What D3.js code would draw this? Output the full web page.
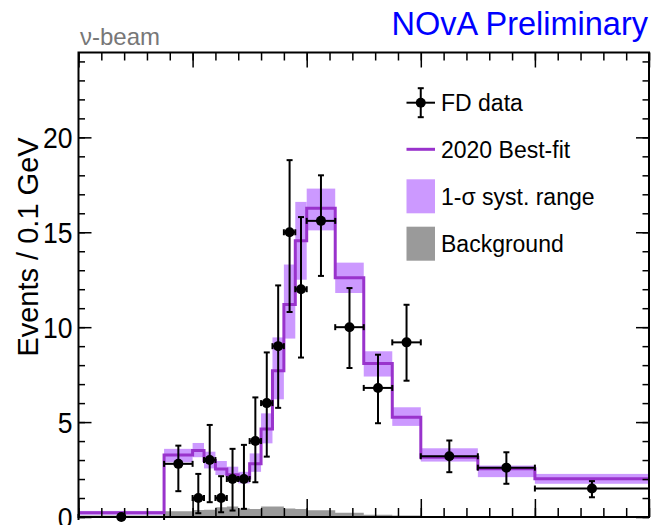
<!DOCTYPE html>
<html>
<head>
<meta charset="utf-8">
<script src="https://cdn.jsdelivr.net/npm/d3@7"></script>
<style>
  body { margin: 0; background: #fff; }
  svg { display: block; font-family: "Liberation Sans", Arial, sans-serif; }
</style>
</head>
<body>
<div id="chart"></div>
<script>
// reconstructed energy bin edges (GeV)
const binEdges = [0, 0.75, 1.0, 1.1, 1.2, 1.3, 1.4, 1.5, 1.6, 1.7, 1.8, 1.9, 2.0, 2.25, 2.5, 2.75, 3.0, 3.5, 4.0, 5.0];

// 2020 best-fit prediction, per bin
const bestFit = [0.22, 3.27, 3.5, 2.97, 2.53, 2.22, 2.05, 2.8, 4.64, 7.7, 11.2, 14.55, 16.27, 12.6, 8.08, 5.25, 3.15, 2.54, 2.01];
// 1-sigma systematic range
const systLow  = [0.12, 2.88, 3.15, 2.56, 2.21, 1.95, 1.77, 2.38, 3.88, 6.2, 9.4, 12.5, 15.1, 11.8, 7.4, 4.8, 2.92, 2.1, 1.75];
const systHigh = [0.32, 3.59, 3.9, 3.44, 2.95, 2.65, 2.38, 3.35, 5.46, 9.46, 13.3, 16.6, 17.3, 13.4, 8.73, 5.78, 3.62, 2.71, 2.27];
// background prediction
const background = [0.08, 0.3, 0.37, 0.38, 0.52, 0.55, 0.45, 0.42, 0.55, 0.55, 0.45, 0.42, 0.35, 0.22, 0.12, 0.08, 0.04, 0.03, 0.02];

// FD data, one point per bin
const dataVal = [0, 2.8, 1, 3, 1, 2, 2, 4, 6, 9, 15, 12, 15.6, 10, 6.8, 9.2, 3.2, 2.6, 1.5];
const dataLo  = [0, 1.36, 0.2, 0.78, 0.25, 0.34, 0.43, 1.83, 3.18, 5.75, 10.8, 8.4, 12.7, 7.85, 4.94, 7.18, 2.36, 1.75, 1.04];
const dataHi  = [0.15, 3.76, 2.27, 4.85, 2.15, 3.59, 3.8, 6.3, 8.67, 12.2, 18.8, 15.8, 18.0, 12.06, 8.55, 11.18, 4.03, 3.41, 1.89];

const yTickLabels = [0, 5, 10, 15, 20];

const legendItems = ["FD data", "2020 Best-fit", "1-\u03c3 syst. range", "Background"];

const W = 652, H = 525;
const plot = { left: 78.5, right: 649, top: 52.5, bottom: 517 };

const purple = "#9933cc";
const band = "#cc99ff";
const grey = "#9a9a9a";

const x = d3.scaleLinear().domain([0, 5]).range([plot.left, plot.right]);
const y = d3.scaleLinear().domain([0, 24.47]).range([plot.bottom, plot.top]);

const svg = d3.select("#chart")
  .append("svg")
  .attr("width", W)
  .attr("height", H);

const bins = bestFit.map((v, i) => ({ x0: binEdges[i], x1: binEdges[i + 1], i }));

// syst band
svg.append("g")
  .selectAll("rect")
  .data(bins)
  .join("rect")
  .attr("x", d => x(d.x0))
  .attr("width", d => x(d.x1) - x(d.x0))
  .attr("y", d => y(systHigh[d.i]))
  .attr("height", d => y(systLow[d.i]) - y(systHigh[d.i]))
  .attr("fill", band);

// background
const stepPts = vals => vals.map((v, i) => [binEdges[i], v]).concat([[binEdges[binEdges.length - 1], vals[vals.length - 1]]]);

svg.append("path")
  .datum(stepPts(background))
  .attr("fill", grey)
  .attr("d", d3.area().x(d => x(d[0])).y0(y(0)).y1(d => y(d[1])).curve(d3.curveStepAfter));

// best fit line
svg.append("path")
  .datum(stepPts(bestFit))
  .attr("fill", "none")
  .attr("stroke", purple)
  .attr("stroke-width", 3)
  .attr("d", d3.line().x(d => x(d[0])).y(d => y(d[1])).curve(d3.curveStepAfter));

// axes: ticks drawn inward on all four sides
const yMinor = d3.range(0, 25, 1);
const xMinor = d3.range(0, 5.01, 0.2).map(v => +v.toFixed(1));
const xMajor = [0, 1, 2, 3, 4, 5];

svg.append("g")
  .attr("transform", `translate(${plot.left},0)`)
  .call(d3.axisRight(y).tickValues(yMinor).tickSize(6.5).tickFormat(""))
  .call(g => g.select(".domain").remove());
svg.append("g")
  .attr("transform", `translate(${plot.left},0)`)
  .call(d3.axisRight(y).tickValues(yTickLabels).tickSize(13).tickFormat(""))
  .call(g => g.select(".domain").remove());
svg.append("g")
  .attr("transform", `translate(${plot.right},0)`)
  .call(d3.axisLeft(y).tickValues(yMinor).tickSize(6.5).tickFormat(""))
  .call(g => g.select(".domain").remove());
svg.append("g")
  .attr("transform", `translate(${plot.right},0)`)
  .call(d3.axisLeft(y).tickValues(yTickLabels).tickSize(13).tickFormat(""))
  .call(g => g.select(".domain").remove());

svg.append("g")
  .attr("transform", `translate(0,${plot.bottom})`)
  .call(d3.axisTop(x).tickValues(xMinor).tickSize(9).tickFormat(""))
  .call(g => g.select(".domain").remove());
svg.append("g")
  .attr("transform", `translate(0,${plot.bottom})`)
  .call(d3.axisTop(x).tickValues(xMajor).tickSize(18).tickFormat(""))
  .call(g => g.select(".domain").remove());
svg.append("g")
  .attr("transform", `translate(0,${plot.top})`)
  .call(d3.axisBottom(x).tickValues(xMinor).tickSize(8).tickFormat(""))
  .call(g => g.select(".domain").remove());
svg.append("g")
  .attr("transform", `translate(0,${plot.top})`)
  .call(d3.axisBottom(x).tickValues(xMajor).tickSize(15).tickFormat(""))
  .call(g => g.select(".domain").remove());

svg.selectAll(".tick line").attr("stroke", "#000").attr("stroke-width", 1.5);

// y tick labels (slightly narrow, like the original font)
svg.append("g")
  .selectAll("text")
  .data(yTickLabels)
  .join("text")
  .attr("transform", d => `translate(${plot.left - 6},${y(d)}) scale(0.9,1)`)
  .attr("dy", "0.36em")
  .attr("text-anchor", "end")
  .attr("font-size", 29.5)
  .text(d => d);

// frame
svg.append("rect")
  .attr("x", plot.left)
  .attr("y", plot.top)
  .attr("width", plot.right - plot.left)
  .attr("height", plot.bottom - plot.top)
  .attr("fill", "none")
  .attr("stroke", "#000")
  .attr("stroke-width", 2);

// data points
const pts = svg.append("g").attr("stroke", "#000").attr("stroke-width", 2);
const cap = 3;
bins.forEach(d => {
  const i = d.i;
  const cx = x((d.x0 + d.x1) / 2);
  const cy = y(dataVal[i]);
  const yt = y(dataHi[i]), yb = y(dataLo[i]);
  pts.append("line").attr("x1", x(d.x0)).attr("x2", x(d.x1)).attr("y1", cy).attr("y2", cy);
  pts.append("line").attr("x1", x(d.x0)).attr("x2", x(d.x0)).attr("y1", cy - cap).attr("y2", cy + cap);
  pts.append("line").attr("x1", x(d.x1)).attr("x2", x(d.x1)).attr("y1", cy - cap).attr("y2", cy + cap);
  pts.append("line").attr("x1", cx).attr("x2", cx).attr("y1", yt).attr("y2", yb);
  pts.append("line").attr("x1", cx - cap).attr("x2", cx + cap).attr("y1", yt).attr("y2", yt);
  pts.append("line").attr("x1", cx - cap).attr("x2", cx + cap).attr("y1", yb).attr("y2", yb);
  pts.append("circle").attr("cx", cx).attr("cy", cy).attr("r", 5).attr("fill", "#000").attr("stroke", "none");
});

// legend
const lg = svg.append("g").attr("font-size", 23);
const lx0 = 406.5, lx1 = 435, tx = 441;
const rows = [102.7, 149.3, 196.3, 243.7];

lg.append("line").attr("x1", lx0).attr("x2", lx1).attr("y1", rows[0]).attr("y2", rows[0]).attr("stroke", "#000").attr("stroke-width", 2);
lg.append("line").attr("x1", (lx0 + lx1) / 2).attr("x2", (lx0 + lx1) / 2).attr("y1", rows[0] - 14.5).attr("y2", rows[0] + 14.5).attr("stroke", "#000").attr("stroke-width", 2);
[-14.5, 14.5].forEach(o => lg.append("line").attr("x1", (lx0 + lx1) / 2 - cap).attr("x2", (lx0 + lx1) / 2 + cap)
  .attr("y1", rows[0] + o).attr("y2", rows[0] + o).attr("stroke", "#000").attr("stroke-width", 2));
lg.append("circle").attr("cx", (lx0 + lx1) / 2).attr("cy", rows[0]).attr("r", 5).attr("fill", "#000");

lg.append("line").attr("x1", lx0).attr("x2", lx1).attr("y1", rows[1]).attr("y2", rows[1]).attr("stroke", purple).attr("stroke-width", 3);
lg.append("rect").attr("x", lx0).attr("y", rows[2] - 17).attr("width", lx1 - lx0).attr("height", 34).attr("fill", band);
lg.append("rect").attr("x", lx0).attr("y", rows[3] - 17).attr("width", lx1 - lx0).attr("height", 34).attr("fill", grey);

lg.selectAll("text.lab")
  .data(legendItems)
  .join("text")
  .attr("class", "lab")
  .attr("x", tx)
  .attr("y", (d, i) => rows[i])
  .attr("dy", "0.36em")
  .text(d => d);

// titles
svg.append("text")
  .attr("x", 648)
  .attr("y", 35)
  .attr("text-anchor", "end")
  .attr("font-size", 32.5)
  .attr("fill", "#0000ff")
  .text("NOvA Preliminary");

svg.append("text")
  .attr("x", 80)
  .attr("y", 45)
  .attr("font-size", 24)
  .attr("fill", "#777")
  .text("\u03bd-beam");

svg.append("text")
  .attr("transform", `translate(38,247) rotate(-90)`)
  .attr("text-anchor", "middle")
  .attr("font-size", 29)
  .text("Events / 0.1 GeV");
</script>
</body>
</html>
